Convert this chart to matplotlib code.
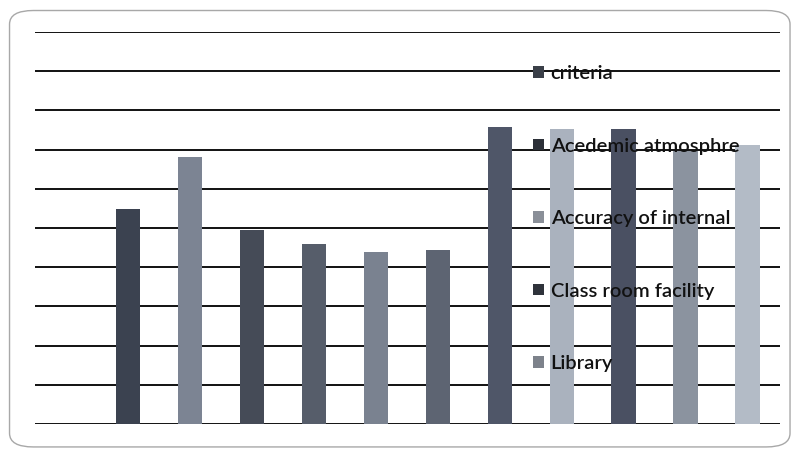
import matplotlib
matplotlib.use("Agg")
import matplotlib.pyplot as plt
from matplotlib.patches import Patch, FancyBboxPatch

# ---- data ----
categories = ["", "", "", "", "", "", "", "", "", "", ""]
values = [5.48, 6.80, 4.96, 4.59, 4.39, 4.43, 7.58, 7.52, 7.53, 6.96, 7.12]
bar_colors = ["#3b4250", "#7c8493", "#454b57", "#565d6a", "#7a8290", "#5d6472",
              "#4f5668", "#aab2be", "#4a5062", "#8b939f", "#b3bbc6"]
legend_labels = ["criteria", "Acedemic atmosphre", "Accuracy of internal",
                 "Class room facility", "Library"]
legend_colors = ["#3a3f48", "#2c3038", "#8a8f98", "#2f333b", "#7d828b"]
yticks = list(range(0, 11))

plt.rcParams['font.family'] = ['Lato', 'DejaVu Sans']

fig = plt.figure(figsize=(7.94, 4.57), dpi=100)
fig.patch.set_facecolor("white")

# rounded frame around the chart
frame = FancyBboxPatch((0.012, 0.022), 0.983, 0.955,
                       boxstyle="round,pad=0,rounding_size=0.03",
                       transform=fig.transFigure, facecolor="none",
                       edgecolor="#a8a8a8", linewidth=1.0)
fig.patches.append(frame)

ax = fig.add_axes([0.044, 0.072, 0.938, 0.858])
x = list(range(len(values)))
ax.bar(x, values, width=0.39, color=bar_colors, zorder=3)

ax.set_ylim(0, 10)
ax.set_xlim(-1.5, 10.52)
ax.set_yticks(yticks)
ax.yaxis.grid(True, color="#111111", linewidth=1.4, zorder=1)
ax.set_axisbelow(True)
ax.set_xticks(x)
ax.set_xticklabels(categories)
ax.tick_params(left=False, bottom=False, labelleft=False, labelbottom=False)
for s in ax.spines.values():
    s.set_visible(False)

handles = [Patch(facecolor=c, edgecolor="none") for c in legend_colors]
leg = ax.legend(handles, legend_labels, loc="upper left",
                bbox_to_anchor=(0.645, 0.962), frameon=False,
                prop={"size": 14.5, "weight": "semibold"},
                labelspacing=2.76, handlelength=0.5,
                handleheight=0.5, handletextpad=0.35)
for t in leg.get_texts():
    t.set_color("#111111")
leg.set_zorder(5)

fig.savefig("out.png", dpi=100, facecolor="white")
